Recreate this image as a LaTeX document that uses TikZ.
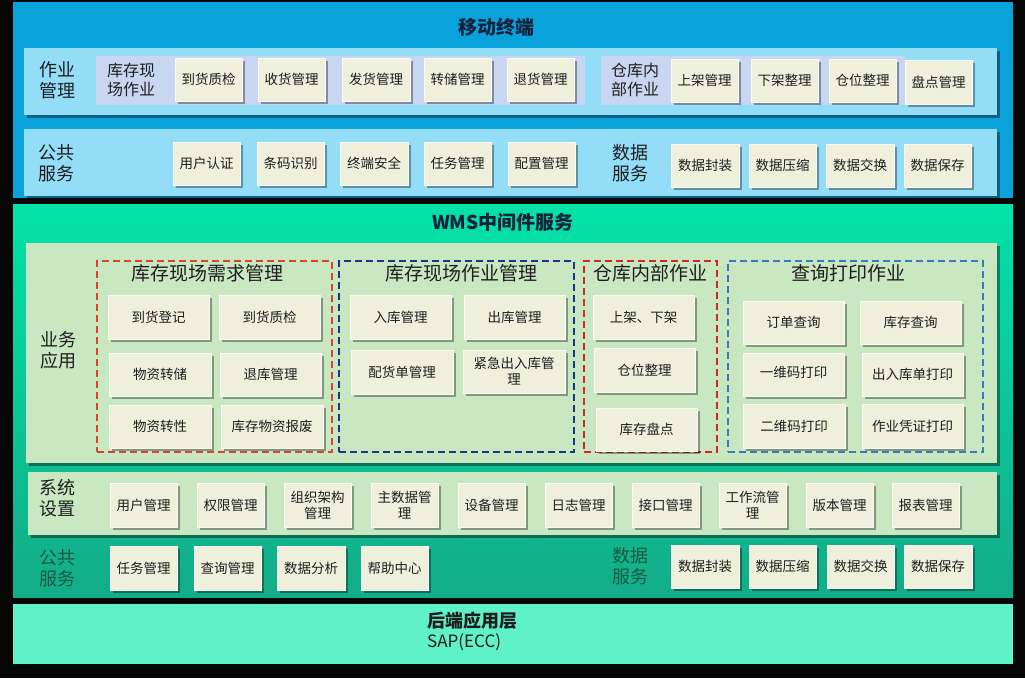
\documentclass[tikz,border=0pt]{standalone}
\usepackage{fontspec}
\setmainfont{Noto Sans CJK SC}
\usetikzlibrary{shadows}
\definecolor{bgblack}{HTML}{060606}
\definecolor{topblue}{HTML}{0AA2DA}
\definecolor{rowblue}{HTML}{93DDF7}
\definecolor{lav}{HTML}{C8D6F2}
\definecolor{boxfill}{HTML}{EEF0DC}
\definecolor{gtop}{HTML}{03E2A8}
\definecolor{gbot}{HTML}{13AC88}
\definecolor{lgreen}{HTML}{C9E8C2}
\definecolor{aqua}{HTML}{5FF1C8}
\definecolor{dred}{HTML}{D8452A}
\definecolor{dredb}{HTML}{D42828}
\definecolor{dnavy}{HTML}{1A3888}
\definecolor{dsteel}{HTML}{3C78C0}
\definecolor{titlecol}{HTML}{14213D}
\definecolor{txt}{HTML}{1E1E1E}
\definecolor{dgreentxt}{HTML}{1C5A44}
\tikzset{
  bx/.style={rectangle, fill=boxfill, draw=white!70!boxfill, line width=0.6pt, inner sep=0pt, align=center,
    text=txt, font=\fontsize{13.5}{16}\selectfont,
    drop shadow={shadow xshift=2.5pt, shadow yshift=-2.5pt, fill=black, opacity=0.35}},
  pnl/.style={rectangle, inner sep=0pt},
  rowshadow/.style={drop shadow={shadow xshift=2.5pt, shadow yshift=-3pt, fill=black, opacity=0.4}},
  grp/.style={rectangle, inner sep=0pt, line width=2pt, dash pattern=on 7pt off 4pt},
  lbl/.style={align=center, text=txt, font=\fontsize{18}{21}\selectfont, inner sep=0pt},
  sublbl/.style={align=center, text=txt, font=\fontsize{16}{19}\selectfont, inner sep=0pt},
  gtitle/.style={text=txt, font=\fontsize{19}{22}\selectfont, inner sep=0pt},
  ttl/.style={text=titlecol, font=\bfseries\fontsize{19}{22}\selectfont, inner sep=0pt}
}
\newcommand\bx[6]{\node[bx,minimum width={(#4-#2)*1pt},minimum height={(#5-#3)*1pt}] (#1) at ({(#2+#4)/2},{(#3+#5)/2}) {#6};}
\newcommand\pnl[6]{\node[pnl,#6,minimum width={(#4-#2)*1pt},minimum height={(#5-#3)*1pt}] (#1) at ({(#2+#4)/2},{(#3+#5)/2}) {};}
\begin{document}
\begin{tikzpicture}[x=1pt,y=-1pt]
\fill[bgblack] (0,0) rectangle (1025,678);
\useasboundingbox (0,0) rectangle (1025,678);
% ---------- top panel ----------
\pnl{top}{13}{2}{1013}{198}{fill=topblue}
\node[ttl] (toptitle) at (496,27) {移动终端};
\pnl{row1}{24}{48}{997}{115}{fill=rowblue,rowshadow}
\pnl{lavA}{96}{56}{585}{105}{fill=lav}
\pnl{lavB}{601}{56}{905}{105}{fill=lav}
\node[lbl] (l1) at (57,80) {作业\\管理};
\node[sublbl] (s1) at (131,80) {库存现\\场作业};
\bx{a1}{175}{58}{242}{101}{到货质检}
\bx{a2}{258}{58}{325}{101}{收货管理}
\bx{a3}{342}{58}{410}{101}{发货管理}
\bx{a4}{424}{58}{491}{101}{转储管理}
\bx{a5}{507}{58}{574}{101}{退货管理}
\node[sublbl] (s2) at (635,80) {仓库内\\部作业};
\bx{a6}{671}{59}{738}{102}{上架管理}
\bx{a7}{751}{59}{818}{102}{下架整理}
\bx{a8}{829}{59}{896}{102}{仓位整理}
\bx{a9}{905}{60}{972}{104}{盘点管理}
\pnl{row2}{24}{129}{997}{196}{fill=rowblue,rowshadow}
\node[lbl] (l2) at (56,163) {公共\\服务};
\bx{b1}{173}{142}{240}{185}{用户认证}
\bx{b2}{257}{142}{324}{185}{条码识别}
\bx{b3}{340}{142}{408}{185}{终端安全}
\bx{b4}{424}{142}{491}{185}{任务管理}
\bx{b5}{508}{142}{575}{185}{配置管理}
\node[lbl] (l3) at (630,163) {数据\\服务};
\bx{b6}{671}{144}{739}{187}{数据封装}
\bx{b7}{749}{144}{816}{187}{数据压缩}
\bx{b8}{826}{144}{894}{187}{数据交换}
\bx{b9}{904}{144}{971}{187}{数据保存}
% ---------- middle panel ----------
\pnl{mid}{13}{204}{1013}{597}{top color=gtop,bottom color=gbot}
\node[ttl] (midtitle) at (503,222) {WMS中间件服务};
\pnl{biz}{26}{243}{997}{463}{fill=lgreen,rowshadow}
\node[lbl] (l4) at (58,350) {业务\\应用};
\pnl{g1}{97}{261}{332}{452}{grp,draw=dred}
\pnl{g2}{339}{261}{574}{452}{grp,draw=dnavy}
\pnl{g3}{584}{261}{717}{452}{grp,draw=dredb}
\pnl{g4}{728}{261}{983}{452}{grp,draw=dsteel}
\node[gtitle] (t1) at (207,273) {库存现场需求管理};
\node[gtitle] (t2) at (461,273) {库存现场作业管理};
\node[gtitle] (t3) at (650,273) {仓库内部作业};
\node[gtitle] (t4) at (848,273) {查询打印作业};
\bx{c1}{108}{295}{209}{339}{到货登记}
\bx{c2}{219}{295}{320}{339}{到货质检}
\bx{c3}{109}{353}{211}{396}{物资转储}
\bx{c4}{220}{353}{321}{396}{退库管理}
\bx{c5}{109}{405}{211}{448}{物资转性}
\bx{c6}{221}{405}{323}{448}{库存物资报废}
\bx{d1}{350}{295}{451}{339}{入库管理}
\bx{d2}{464}{295}{565}{339}{出库管理}
\bx{d3}{351}{350}{453}{394}{配货单管理}
\bx{d4}{463}{350}{565}{393}{紧急出入库管\\理}
\bx{e1}{593}{295}{694}{339}{上架、下架}
\bx{e2}{594}{348}{695}{392}{仓位整理}
\bx{e3}{596}{408}{697}{451}{库存盘点}
\bx{f1}{743}{301}{844}{344}{订单查询}
\bx{f2}{860}{301}{961}{344}{库存查询}
\bx{f3}{743}{353}{844}{396}{\raisebox{6pt}{一维码打印}}
\bx{f4}{862}{353}{963}{396}{出入库单打印}
\bx{f5}{743}{404}{845}{448}{二维码打印}
\bx{f6}{862}{404}{963}{448}{作业凭证打印}
\pnl{sys}{28}{472}{997}{535}{fill=lgreen,rowshadow}
\node[lbl] (l5) at (57,498) {系统\\设置};
\bx{h1}{110}{483}{177}{527}{用户管理}
\bx{h2}{197}{483}{264}{527}{权限管理}
\bx{h3}{284}{483}{351}{527}{组织架构\\管理}
\bx{h4}{371}{483}{438}{527}{主数据管\\理}
\bx{h5}{458}{483}{525}{527}{设备管理}
\bx{h6}{545}{483}{612}{527}{日志管理}
\bx{h7}{632}{483}{699}{527}{接口管理}
\bx{h8}{719}{483}{786}{527}{工作流管\\理}
\bx{h9}{806}{483}{873}{527}{版本管理}
\bx{h10}{892}{483}{959}{527}{报表管理}
\node[lbl,text=dgreentxt] (l6) at (57,568) {公共\\服务};
\bx{k1}{110}{546}{177}{590}{任务管理}
\bx{k2}{194}{546}{261}{590}{查询管理}
\bx{k3}{277}{546}{345}{590}{数据分析}
\bx{k4}{361}{546}{428}{590}{帮助中心}
\node[lbl,text=dgreentxt] (l7) at (630,566) {数据\\服务};
\bx{k5}{671}{545}{739}{588}{数据封装}
\bx{k6}{749}{545}{816}{588}{数据压缩}
\bx{k7}{827}{545}{894}{588}{数据交换}
\bx{k8}{904}{545}{972}{588}{数据保存}
% ---------- bottom panel ----------
\pnl{bot}{13}{604}{1013}{664}{fill=aqua}
\node[text=txt, inner sep=0pt, anchor=west, font=\bfseries\fontsize{18}{21}\selectfont] (backend) at (427,621) {后端应用层};
\node[text=txt, inner sep=0pt, anchor=west, font=\fontsize{17}{20}\selectfont] (sap) at (427,642) {SAP(ECC)};
\end{tikzpicture}
\end{document}
